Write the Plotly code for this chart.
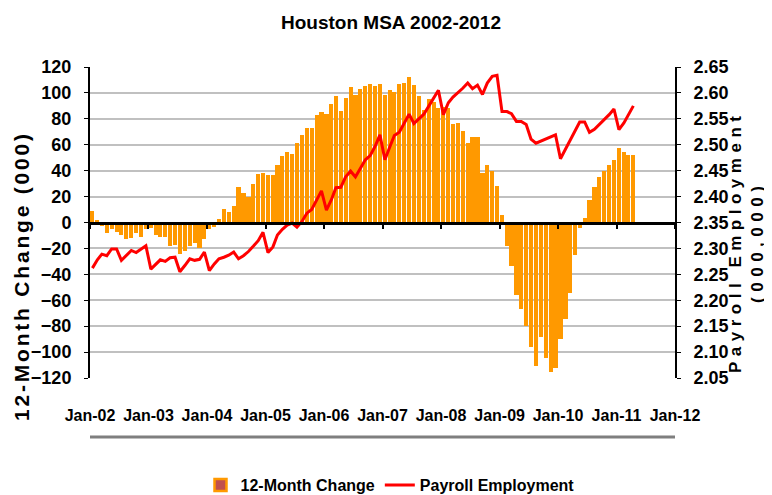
import pandas as pd
import plotly.graph_objects as go

# ---------------- data ----------------
# 12-month change in payroll employment (thousands), Jan-2002 .. Apr-2011
change_2002 = [8.5, 2.3, -2.5, -8, -5, -7, -9.5, -13, -12, -8, -11, -5]
change_2003 = [-4, -9.5, -11.5, -11.5, -18.5, -17, -24, -22, -18.5, -16, -19.3, -12.8]
change_2004 = [-5, -3.8, 2.6, 10.3, 8, 12.8, 27.4, 23, 20, 29.5, 37.7, 38.5]
change_2005 = [36.4, 36.4, 44.4, 51.3, 54.6, 53, 61.5, 67.2, 73, 72.6, 82.8, 85.4]
change_2006 = [83.8, 91.8, 97.4, 85.9, 96.2, 104.4, 98.7, 103, 105.6, 106.9, 105.6, 106.9]
change_2007 = [98.7, 102, 100.8, 106.9, 107.7, 112.3, 105.9, 97.4, 86.7, 95.4, 92.8, 88.5]
change_2008 = [89, 88.5, 76.2, 76.9, 70.5, 61.5, 65.9, 65.9, 38.5, 44.4, 39.7, 28.2]
change_2009 = [5.9, -17.9, -33.3, -55.6, -66.7, -79.5, -96.2, -110.8, -88.5, -104.4, -115.4, -112.3]
change_2010 = [-89.7, -74.4, -54.6, -25.1, -4.6, 3.3, 17.2, 27.4, 35, 40, 44.5, 48]
change_2011 = [57.7, 54.4, 52, 52]

# Payroll employment (millions), Jan-2002 .. Apr-2011
payroll_2002 = [2.262, 2.278, 2.289, 2.286, 2.299, 2.299, 2.277, 2.286, 2.296, 2.292, 2.299, 2.305]
payroll_2003 = [2.260, 2.270, 2.278, 2.275, 2.282, 2.283, 2.255, 2.267, 2.280, 2.277, 2.279, 2.293]
payroll_2004 = [2.257, 2.270, 2.280, 2.283, 2.287, 2.293, 2.280, 2.286, 2.294, 2.304, 2.315, 2.331]
payroll_2005 = [2.292, 2.303, 2.326, 2.337, 2.345, 2.349, 2.341, 2.352, 2.368, 2.375, 2.394, 2.411]
payroll_2006 = [2.374, 2.394, 2.417, 2.418, 2.438, 2.449, 2.438, 2.455, 2.471, 2.479, 2.497, 2.519]
payroll_2007 = [2.471, 2.496, 2.518, 2.524, 2.542, 2.559, 2.541, 2.550, 2.559, 2.574, 2.590, 2.605]
payroll_2008 = [2.558, 2.581, 2.592, 2.600, 2.609, 2.619, 2.608, 2.615, 2.597, 2.619, 2.632, 2.634]
payroll_2009 = [2.564, 2.564, 2.560, 2.545, 2.545, 2.539, 2.511, 2.503, 2.507, 2.510, 2.514, 2.519]
payroll_2010 = [2.473, 2.491, 2.508, 2.526, 2.544, 2.544, 2.524, 2.530, 2.539, 2.548, 2.558, 2.569]
payroll_2011 = [2.529, 2.542, 2.559, 2.575]

tick_labels = ["Jan-02", "Jan-03", "Jan-04", "Jan-05", "Jan-06", "Jan-07",
               "Jan-08", "Jan-09", "Jan-10", "Jan-11", "Jan-12"]

change = (change_2002 + change_2003 + change_2004 + change_2005 + change_2006 +
          change_2007 + change_2008 + change_2009 + change_2010 + change_2011)
payroll = (payroll_2002 + payroll_2003 + payroll_2004 + payroll_2005 + payroll_2006 +
           payroll_2007 + payroll_2008 + payroll_2009 + payroll_2010 + payroll_2011)

months = pd.date_range("2002-01-01", periods=len(change), freq="MS")
x_mid = months + pd.Timedelta(days=15)
year_starts = pd.date_range("2002-01-01", "2012-01-01", freq="YS")
x_range = ["2002-01-01", "2012-01-01"]

FONT = "Liberation Sans, Arial, sans-serif"

# the page body adds an 8px margin, so the figure is 8px smaller than the window
W, H = 764, 487

fig = go.Figure()
fig.add_trace(go.Bar(
    x=x_mid, y=change, name="12-Month Change", showlegend=False,
    marker=dict(color="#FF9900", line=dict(width=0)),
    width=26 * 86400000,
))
# legend swatch (Excel-style red fill with orange border)
fig.add_trace(go.Bar(
    x=[None], y=[None], name="12-Month Change",
    marker=dict(color="#C0504D", line=dict(color="#FF9900", width=2.5)),
))
fig.add_trace(go.Scatter(
    x=x_mid, y=payroll, name="Payroll Employment", mode="lines",
    line=dict(color="#FF0000", width=3),
    xaxis="x2", yaxis="y2",
))

fig.update_layout(
    width=W, height=H,
    margin=dict(l=82, r=97, t=59, b=117, autoexpand=False),
    paper_bgcolor="white", plot_bgcolor="white",
    font=dict(family=FONT, color="black", size=16, weight="bold"),
    title=dict(text="Houston MSA 2002-2012", x=383 / W, xref="container", xanchor="center",
               y=1 - 14 / H, yref="container", yanchor="middle", automargin=False,
               font=dict(family=FONT, size=19, weight="bold", color="black")),
    bargap=0,
    showlegend=True,
    xaxis=dict(type="date", range=x_range, tickvals=year_starts, ticktext=tick_labels,
               showgrid=False, showline=False, zeroline=False, ticks="",
               tickangle=0, automargin=False, ticklabelstandoff=26,
               tickfont=dict(family=FONT, size=16, weight="bold")),
    xaxis2=dict(type="date", range=x_range, overlaying="x", matches="x", anchor="free",
                position=0.5, tickvals=year_starts, showticklabels=False,
                ticks="outside", ticklen=5, tickwidth=1.5, tickcolor="black",
                showline=True, linecolor="black", linewidth=2.5, automargin=False,
                showgrid=False, zeroline=False),
    yaxis=dict(range=[-120, 120], tick0=0, dtick=20, showgrid=True,
               gridcolor="#C0C0C0", gridwidth=2, zeroline=False,
               showline=True, linecolor="black", linewidth=2,
               ticks="outside", ticklen=4, tickcolor="black",
               ticklabelstandoff=9, automargin=False,
               tickfont=dict(family=FONT, size=18, weight="bold")),
    yaxis2=dict(overlaying="y", side="right", anchor="x2", range=[2.05, 2.65],
                tick0=2.05, dtick=0.05, tickformat=".2f", showgrid=False,
                zeroline=False, showline=True, linecolor="black", linewidth=2,
                ticks="outside", ticklen=4, tickcolor="black",
                ticklabelstandoff=9, automargin=False,
                tickfont=dict(family=FONT, size=18, weight="bold")),
    legend=dict(orientation="h", x=382 / W, xref="container", xanchor="center",
                y=0.0205, yref="container", yanchor="middle",
                font=dict(family=FONT, size=16, weight="bold"),
                traceorder="normal", itemwidth=30, bgcolor="rgba(0,0,0,0)"),
    shapes=[dict(type="line", xref="paper", yref="paper", x0=0, x1=1,
                 y0=-59 / 311, y1=-59 / 311, line=dict(color="#7F7F7F", width=3))],
    annotations=[
        dict(text='<span style="letter-spacing:2.8px">12-Month Change (000)</span>',
             textangle=-90, xref="paper", yref="paper", x=-69 / 585, y=102 / 311,
             xanchor="center", yanchor="middle", showarrow=False,
             font=dict(family=FONT, size=21, weight="bold", color="black")),
        dict(text='<span style="letter-spacing:5.5px">Payroll Employment</span><br>'
                  '<span style="letter-spacing:5.5px">(000,000)</span>',
             textangle=-90, xref="paper", yref="paper", x=657 / 585, y=136 / 311,
             xanchor="center", yanchor="middle", showarrow=False,
             font=dict(family=FONT, size=17, weight="bold", color="black")),
    ],
)

fig.write_html("out.html")
